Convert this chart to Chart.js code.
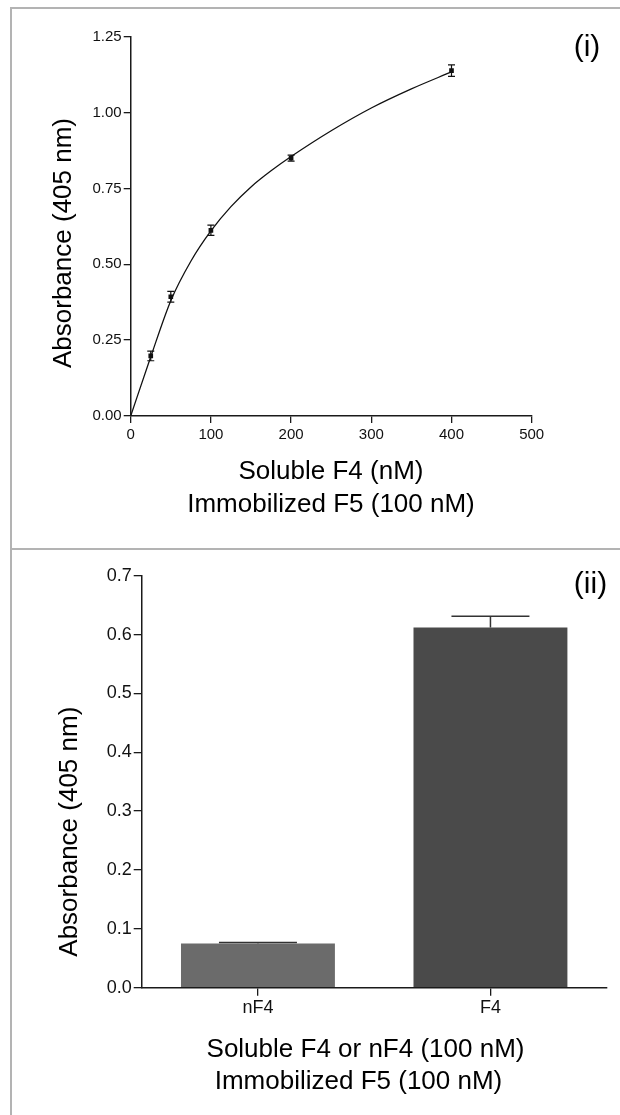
<!DOCTYPE html>
<html>
<head>
<meta charset="utf-8">
<script src="https://cdn.jsdelivr.net/npm/chart.js@4/dist/chart.umd.min.js"></script>
<style>
  html, body { margin: 0; padding: 0; background: #fff; width: 620px; height: 1115px; overflow: hidden; }
  canvas { position: absolute; left: 0; }
  #c1 { top: 0; }
  #c2 { top: 549px; }
  .ln { position: absolute; background: #b3b3b3; }
</style>
</head>
<body>
<div class="ln" style="left:10px; top:7px; width:610px; height:2px;"></div>
<div class="ln" style="left:10px; top:7px; width:2px; height:1108px;"></div>
<div class="ln" style="left:10px; top:548px; width:610px; height:2px;"></div>
<canvas id="c1" width="620" height="549"></canvas>
<canvas id="c2" width="620" height="566"></canvas>
<script>
// ---------- Panel (i) data ----------
const concX    = [25, 50, 100, 200, 400];            // Soluble F4 (nM)
const absMean  = [0.198, 0.393, 0.612, 0.850, 1.138]; // Absorbance (405 nm)
const absErr   = [0.016, 0.018, 0.017, 0.010, 0.019];
// fitted curve
const curveX   = [0, 25, 50, 75, 100, 125, 150, 175, 200, 250, 300, 350, 400];
const curveY   = [0, 0.195, 0.38, 0.51, 0.61, 0.69, 0.755, 0.808, 0.855, 0.94, 1.015, 1.078, 1.134];
const xTicksTop = [0, 100, 200, 300, 400, 500];
const yTicksTop = [0, 0.25, 0.50, 0.75, 1.00, 1.25];

// ---------- Panel (ii) data ----------
const barLabels = ['nF4', 'F4'];
const barMean   = [0.075, 0.612];
const barErr    = [0.002, 0.019];
const barColors = ['#6b6b6b', '#4a4a4a'];
const yTicksBot = [0, 0.1, 0.2, 0.3, 0.4, 0.5, 0.6, 0.7];

// ---------- Texts ----------
const yTitle = 'Absorbance (405 nm)';
const xTitleTop = ['Soluble F4 (nM)', 'Immobilized F5 (100 nM)'];
const xTitleBot = ['Soluble F4 or nF4 (100 nM)', 'Immobilized F5 (100 nM)'];
const panelTop = '(i)';
const panelBot = '(ii)';

const FONT = '"Liberation Sans", Arial, Helvetica, sans-serif';
const AX = '#1a1a1a';

function drawText(ctx, txt, x, y, size, rot) {
  ctx.save();
  ctx.font = size + 'px ' + FONT;
  ctx.fillStyle = '#000';
  ctx.textAlign = 'center';
  ctx.textBaseline = 'middle';
  ctx.translate(x, y);
  if (rot) ctx.rotate(rot);
  ctx.fillText(txt, 0, 0);
  ctx.restore();
}

const textPlugin = {
  id: 'texts',
  afterDraw(chart, args, opts) {
    const ctx = chart.ctx;
    (opts.items || []).forEach(it => drawText(ctx, it.t, it.x, it.y, it.s, it.r));
  }
};

const errTop = {
  id: 'errTop',
  afterDatasetsDraw(chart) {
    const ctx = chart.ctx, xs = chart.scales.x, ys = chart.scales.y;
    ctx.save();
    ctx.strokeStyle = '#111';
    ctx.lineWidth = 1.2;
    concX.forEach((c, i) => {
      const px = xs.getPixelForValue(c);
      const y1 = ys.getPixelForValue(absMean[i] + absErr[i]);
      const y2 = ys.getPixelForValue(absMean[i] - absErr[i]);
      ctx.beginPath();
      ctx.moveTo(px, y1); ctx.lineTo(px, y2);
      ctx.moveTo(px - 3.5, y1); ctx.lineTo(px + 3.5, y1);
      ctx.moveTo(px - 3.5, y2); ctx.lineTo(px + 3.5, y2);
      ctx.stroke();
    });
    ctx.restore();
  }
};

const errBot = {
  id: 'errBot',
  afterDatasetsDraw(chart) {
    const ctx = chart.ctx, xs = chart.scales.x, ys = chart.scales.y;
    ctx.save();
    ctx.strokeStyle = '#333';
    ctx.lineWidth = 1.5;
    barLabels.forEach((l, i) => {
      const px = xs.getPixelForValue(i);
      const y0 = ys.getPixelForValue(barMean[i]);
      const y1 = ys.getPixelForValue(barMean[i] + barErr[i]);
      ctx.beginPath();
      ctx.moveTo(px, y0); ctx.lineTo(px, y1);
      ctx.moveTo(px - 39, y1); ctx.lineTo(px + 39, y1);
      ctx.stroke();
    });
    ctx.restore();
  }
};

function axisCommon(size, tickLen, pad) {
  return {
    grid: { display: true, drawOnChartArea: false, drawTicks: true, tickLength: tickLen, color: AX, lineWidth: 1.3 },
    border: { display: true, color: AX, width: 1.5 },
    ticks: { color: '#111', font: { family: FONT, size: size }, padding: pad, maxRotation: 0, autoSkip: false }
  };
}

// ---------- Chart (i) ----------
const xTop = axisCommon(15, 7, 3);
Object.assign(xTop, {
  type: 'linear', min: 0, max: 500,
  afterBuildTicks: s => { s.ticks = xTicksTop.map(v => ({ value: v })); },
  afterFit: s => { s.height = 549 - 416; }
});
const yTop = axisCommon(15, 7, 2);
Object.assign(yTop, {
  type: 'linear', min: 0, max: 1.25,
  afterBuildTicks: s => { s.ticks = yTicksTop.map(v => ({ value: v })); },
  afterFit: s => { s.width = 130.7; }
});
yTop.ticks.callback = v => Number(v).toFixed(2);

new Chart(document.getElementById('c1'), {
  type: 'scatter',
  data: {
    datasets: [
      {
        type: 'line',
        data: curveX.map((x, i) => ({ x: x, y: curveY[i] })),
        borderColor: '#111', borderWidth: 1.3, pointRadius: 0,
        cubicInterpolationMode: 'monotone', fill: false, order: 2
      },
      {
        data: concX.map((x, i) => ({ x: x, y: absMean[i] })),
        backgroundColor: '#111', borderColor: '#111', borderWidth: 0,
        pointStyle: 'rect', pointRadius: 3.3, order: 1
      }
    ]
  },
  options: {
    responsive: false, animation: false, devicePixelRatio: 1,
    layout: { padding: { top: 36.7, right: 88.3, left: 0, bottom: 0 } },
    plugins: {
      legend: { display: false }, tooltip: { enabled: false },
      texts: { items: [
        { t: yTitle, x: 64, y: 243, s: 26, r: -Math.PI / 2 },
        { t: xTitleTop[0], x: 331, y: 472, s: 26 },
        { t: xTitleTop[1], x: 331, y: 505, s: 26 },
        { t: panelTop, x: 587, y: 48, s: 30 }
      ] }
    },
    scales: { x: xTop, y: yTop }
  },
  plugins: [errTop, textPlugin]
});

// ---------- Chart (ii) ----------
const xBot = axisCommon(18, 8, 2);
Object.assign(xBot, {
  type: 'category', offset: true,
  afterFit: s => { s.height = 566 - 438.7; }
});
xBot.grid.offset = false;
const yBot = axisCommon(18, 8, 2);
Object.assign(yBot, {
  type: 'linear', min: 0, max: 0.7,
  afterBuildTicks: s => { s.ticks = yTicksBot.map(v => ({ value: v })); },
  afterFit: s => { s.width = 141.7; }
});
yBot.ticks.callback = v => Number(v).toFixed(1);

new Chart(document.getElementById('c2'), {
  type: 'bar',
  data: {
    labels: barLabels,
    datasets: [{
      data: barMean,
      backgroundColor: barColors,
      borderWidth: 0,
      categoryPercentage: 1.0,
      barPercentage: 0.662
    }]
  },
  options: {
    responsive: false, animation: false, devicePixelRatio: 1,
    layout: { padding: { top: 26.7, right: 13.3, left: 0, bottom: 0 } },
    plugins: {
      legend: { display: false }, tooltip: { enabled: false },
      texts: { items: [
        { t: yTitle, x: 70, y: 282.7, s: 26, r: -Math.PI / 2 },
        { t: xTitleBot[0], x: 365.5, y: 501, s: 26 },
        { t: xTitleBot[1], x: 358.5, y: 532.7, s: 26 },
        { t: panelBot, x: 590.5, y: 36, s: 30 }
      ] }
    },
    scales: { x: xBot, y: yBot }
  },
  plugins: [errBot, textPlugin]
});
</script>
</body>
</html>
